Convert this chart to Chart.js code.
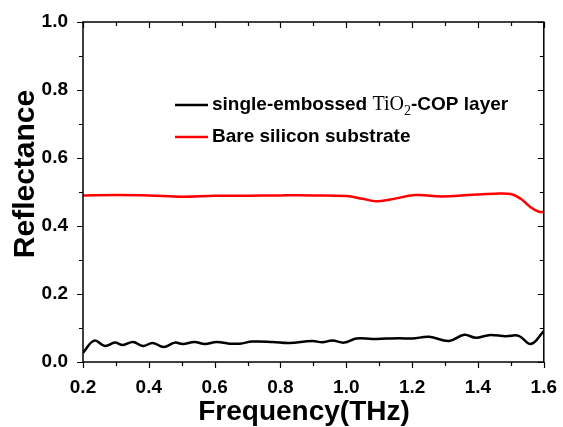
<!DOCTYPE html>
<html>
<head>
<meta charset="utf-8">
<script src="https://cdn.jsdelivr.net/npm/chart.js@4"></script>
<style>
  html, body { margin: 0; padding: 0; background: #fff; }
  #grafico { display: block; }
</style>
</head>
<body>
<canvas id="grafico" width="563" height="427"></canvas>
<script>
// dados
const freqCop = [0.200, 0.234, 0.267, 0.297, 0.321, 0.352, 0.382, 0.412, 0.445, 0.479, 0.503, 0.539, 0.570, 0.606, 0.645, 0.676, 0.715, 0.776, 0.827, 0.897, 0.927, 0.958, 0.994, 1.030, 1.079, 1.121, 1.161, 1.200, 1.252, 1.312, 1.358, 1.394, 1.433, 1.485, 1.524, 1.561, 1.600];
const reflCop = [0.027, 0.063, 0.047, 0.057, 0.050, 0.059, 0.047, 0.056, 0.044, 0.057, 0.053, 0.059, 0.053, 0.059, 0.054, 0.054, 0.060, 0.059, 0.056, 0.062, 0.058, 0.063, 0.057, 0.069, 0.068, 0.069, 0.070, 0.069, 0.074, 0.062, 0.080, 0.071, 0.079, 0.076, 0.077, 0.053, 0.091];

const freqSilicio = [0.20, 0.30, 0.40, 0.50, 0.60, 0.70, 0.80, 0.90, 1.00, 1.05, 1.09, 1.13, 1.21, 1.29, 1.37, 1.45, 1.50, 1.53, 1.56, 1.585, 1.60];
const reflSilicio = [0.490, 0.491, 0.490, 0.486, 0.489, 0.489, 0.490, 0.490, 0.488, 0.480, 0.473, 0.477, 0.491, 0.487, 0.491, 0.495, 0.494, 0.480, 0.455, 0.442, 0.441];

const rotuloCop = 'single-embossed TiO₂-COP layer';
const rotuloSilicio = 'Bare silicon substrate';
const tituloX = 'Frequency(THz)';
const tituloY = 'Reflectance';

const fonteSans = '"Liberation Sans", Arial, sans-serif';
const fonteSerif = '"Liberation Serif", "Times New Roman", serif';

function montaPontos(xs, ys) {
  return xs.map((x, i) => ({ x: x, y: ys[i] }));
}

function ehMaior(valor) {
  return Math.round(valor * 10) % 2 === 0;
}

// moldura, marcas de escala e títulos dos eixos
const molduraPlugin = {
  id: 'moldura',
  afterDraw(chart) {
    const ctx = chart.ctx;
    const area = chart.chartArea;
    const x = chart.scales.x;
    const y = chart.scales.y;
    ctx.save();
    ctx.strokeStyle = '#000';
    ctx.lineWidth = 1.5;
    ctx.strokeRect(area.left, area.top, area.right - area.left, area.bottom - area.top);

    ctx.lineWidth = 1.2;
    ctx.beginPath();
    x.ticks.forEach(t => {
      const px = Math.round(x.getPixelForValue(t.value)) + 0.5;
      const len = ehMaior(t.value) ? 6 : 4;
      ctx.moveTo(px, area.bottom); ctx.lineTo(px, area.bottom + len);
      ctx.moveTo(px, area.top); ctx.lineTo(px, area.top + len);
    });
    y.ticks.forEach(t => {
      const py = Math.round(y.getPixelForValue(t.value)) + 0.5;
      const len = ehMaior(t.value) ? 6 : 4;
      ctx.moveTo(area.left, py); ctx.lineTo(area.left - len, py);
      ctx.moveTo(area.right, py); ctx.lineTo(area.right - len, py);
    });
    ctx.stroke();

    ctx.fillStyle = '#000';
    ctx.font = 'bold 28px ' + fonteSans;
    ctx.textAlign = 'center';
    ctx.textBaseline = 'middle';
    ctx.fillText(tituloX, 304, 412);
    ctx.font = 'bold 30px ' + fonteSans;
    ctx.translate(26, 174);
    ctx.rotate(-Math.PI / 2);
    ctx.fillText(tituloY, 0, 0);
    ctx.restore();
  }
};

// legenda com TiO2 em fonte serifada
const legendaPlugin = {
  id: 'legenda',
  afterDatasetsDraw(chart) {
    const ctx = chart.ctx;
    const linhas = [
      { cor: chart.data.datasets[0].borderColor, y: 105, partes: [
        { texto: 'single-embossed ', fonte: 'bold 19px ' + fonteSans, dy: 0 },
        { texto: 'TiO', fonte: '20px ' + fonteSerif, dy: 0 },
        { texto: '2', fonte: '14px ' + fonteSerif, dy: 6 },
        { texto: '-COP layer', fonte: 'bold 19px ' + fonteSans, dy: 0 }
      ] },
      { cor: chart.data.datasets[1].borderColor, y: 137, partes: [
        { texto: chart.data.datasets[1].label, fonte: 'bold 19px ' + fonteSans, dy: 0 }
      ] }
    ];
    ctx.save();
    linhas.forEach(linha => {
      ctx.strokeStyle = linha.cor;
      ctx.lineWidth = 2.5;
      ctx.beginPath();
      ctx.moveTo(175, linha.y);
      ctx.lineTo(208, linha.y);
      ctx.stroke();
      let cx = 212;
      ctx.fillStyle = '#000';
      ctx.textBaseline = 'middle';
      ctx.textAlign = 'left';
      linha.partes.forEach(p => {
        ctx.font = p.fonte;
        ctx.fillText(p.texto, cx, linha.y + p.dy);
        cx += ctx.measureText(p.texto).width;
      });
    });
    ctx.restore();
  }
};

const grafico = document.getElementById('grafico');
const graficoReflectancia = new Chart(grafico, {
  type: 'line',
  data: {
    datasets: [{
      label: rotuloCop,
      data: montaPontos(freqCop, reflCop),
      borderColor: '#000000',
      borderWidth: 2.5,
      pointRadius: 0,
      tension: 0.4,
      fill: false
    }, {
      label: rotuloSilicio,
      data: montaPontos(freqSilicio, reflSilicio),
      borderColor: '#ff0000',
      borderWidth: 2.5,
      pointRadius: 0,
      tension: 0.4,
      fill: false
    }]
  },
  options: {
    responsive: false,
    animation: false,
    layout: { padding: { top: 22, right: 18, left: 0, bottom: 0 } },
    plugins: {
      legend: { display: false },
      tooltip: { enabled: false }
    },
    scales: {
      x: {
        type: 'linear',
        min: 0.2,
        max: 1.6,
        grid: { display: false },
        border: { display: false },
        ticks: {
          stepSize: 0.1,
          padding: 6,
          color: '#000',
          font: { family: fonteSans, size: 19, weight: 'bold' },
          maxRotation: 0,
          autoSkip: false,
          callback: v => ehMaior(v) ? v.toFixed(1) : ''
        },
        afterFit: escala => { escala.height = 65; }
      },
      y: {
        min: 0,
        max: 1,
        grid: { display: false },
        border: { display: false },
        ticks: {
          stepSize: 0.1,
          padding: 7,
          color: '#000',
          font: { family: fonteSans, size: 19, weight: 'bold' },
          autoSkip: false,
          callback: v => ehMaior(v) ? v.toFixed(1) : ''
        },
        afterFit: escala => { escala.width = 83; }
      }
    }
  },
  plugins: [molduraPlugin, legendaPlugin]
});
</script>
</body>
</html>
